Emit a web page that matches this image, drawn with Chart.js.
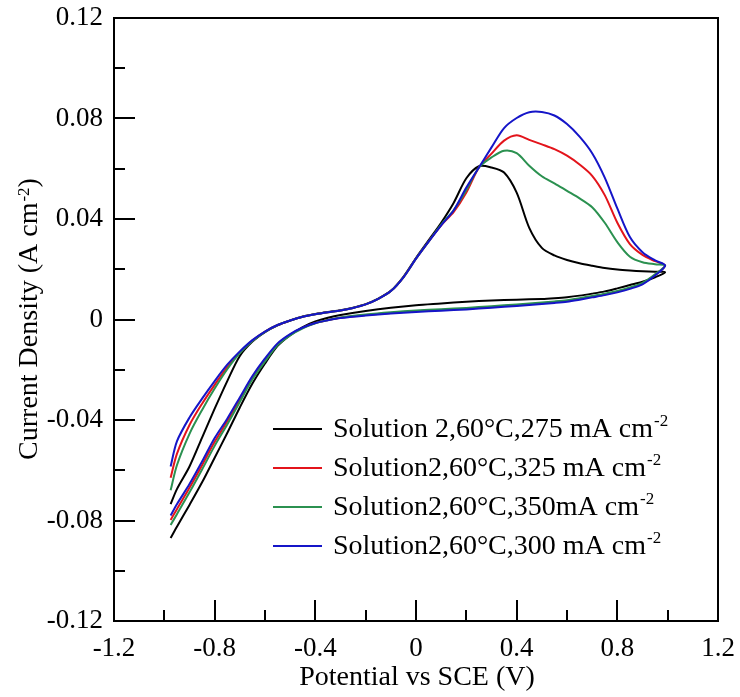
<!DOCTYPE html>
<html>
<head>
<meta charset="utf-8">
<script src="https://cdn.jsdelivr.net/npm/chart.js@4/dist/chart.umd.min.js"></script>
<style>
html,body{margin:0;padding:0;background:#fff;}
canvas{display:block;}
</style>
</head>
<body>
<canvas id="c" width="740" height="697"></canvas>
<script>
// ---- data (potential in V vs SCE, current density in A cm-2) ----
const seriesLabels = [
  "Solution 2,60\u00B0C,275 mA cm",
  "Solution2,60\u00B0C,325 mA cm",
  "Solution2,60\u00B0C,350mA cm",
  "Solution2,60\u00B0C,300 mA cm"
];
const seriesColors = ["#000000", "#e3141b", "#2b9150", "#1515c8"];

// forward (anodic) sweep potentials
const forwardE = [-0.975,-0.95,-0.9,-0.85,-0.8,-0.75,-0.7,-0.65,-0.6,-0.55,-0.5,-0.45,-0.4,-0.35,-0.3,-0.25,-0.2,-0.15,-0.1,-0.05,
  0,0.05,0.1,0.15,0.2,0.25,0.3,0.35,0.4,0.45,0.5,0.55,0.6,0.65,0.7,0.75,0.8,0.85,0.9,0.95,0.99];
// reverse sweep potentials
const reverseE = [0.99,0.95,0.9,0.85,0.8,0.75,0.7,0.65,0.6,0.55,0.5,0.4,0.3,0.2,0.1,0,-0.1,-0.2,-0.3,-0.35,
  -0.4,-0.45,-0.5,-0.55,-0.6,-0.65,-0.7,-0.75,-0.8,-0.85,-0.9,-0.95,-0.975];

const fwd275 = [-0.0735,-0.0675,-0.0585,-0.047,-0.0355,-0.0245,-0.0145,-0.0088,-0.005,-0.0023,-0.0004,0.0012,0.0022,0.003,0.0037,0.0047,0.0061,0.0083,0.0114,0.017,
  0.0245,0.0315,0.0385,0.0465,0.0562,0.061,0.0605,0.0585,0.0505,0.0365,0.0285,0.0255,0.0237,0.0224,0.0214,0.0205,0.0199,0.0195,0.0192,0.019,0.0188];
const rev275 = [0.0188,0.0168,0.015,0.0137,0.0124,0.0112,0.0103,0.0095,0.0089,0.0085,0.0082,0.0079,0.0076,0.0071,0.0064,0.0057,0.0047,0.0034,0.0018,0.0007,
  -0.0008,-0.003,-0.0062,-0.0105,-0.0175,-0.0255,-0.035,-0.0452,-0.055,-0.0648,-0.0738,-0.0825,-0.087];

const fwd325 = [-0.063,-0.0535,-0.042,-0.0335,-0.026,-0.019,-0.0131,-0.0084,-0.0048,-0.0022,-0.0004,0.0011,0.0021,0.0029,0.0036,0.0046,0.006,0.0082,0.0113,0.0168,
  0.0242,0.031,0.0375,0.0428,0.0505,0.0605,0.066,0.0712,0.0733,0.0715,0.0697,0.0678,0.0652,0.0617,0.0572,0.0495,0.0385,0.03,0.0257,0.0232,0.0215];
const rev325 = [0.0215,0.0178,0.0143,0.0125,0.0111,0.01,0.0091,0.0082,0.0074,0.0069,0.0065,0.0057,0.005,0.0043,0.0038,0.0033,0.0026,0.0018,0.0007,-0.0002,
  -0.0014,-0.0033,-0.006,-0.0098,-0.016,-0.023,-0.0318,-0.0405,-0.0487,-0.058,-0.067,-0.0755,-0.0798];

const fwd350 = [-0.068,-0.058,-0.0455,-0.036,-0.0275,-0.0198,-0.0134,-0.0086,-0.0049,-0.0022,-0.0004,0.0011,0.0021,0.0029,0.0036,0.0046,0.006,0.0082,0.0113,0.0168,
  0.0242,0.031,0.0378,0.0435,0.0515,0.0605,0.0645,0.0672,0.0662,0.0612,0.057,0.0542,0.0512,0.0482,0.0447,0.0385,0.0308,0.025,0.0228,0.022,0.0215];
const rev350 = [0.0215,0.018,0.0146,0.0128,0.0114,0.0103,0.0094,0.0085,0.0077,0.0072,0.0068,0.006,0.0053,0.0046,0.0041,0.0036,0.0029,0.002,0.0008,-0.0002,
  -0.0015,-0.0035,-0.0063,-0.0102,-0.0167,-0.0238,-0.0328,-0.0418,-0.0503,-0.0597,-0.0688,-0.0775,-0.0818];

const fwd300 = [-0.0585,-0.0485,-0.039,-0.0315,-0.0245,-0.018,-0.0127,-0.0082,-0.0048,-0.0022,-0.0004,0.0011,0.0021,0.0029,0.0036,0.0046,0.006,0.0082,0.0113,0.0168,
  0.0242,0.031,0.0375,0.0435,0.0525,0.0605,0.0685,0.0762,0.0802,0.0825,0.0826,0.0812,0.0778,0.0728,0.0662,0.0565,0.0442,0.0328,0.0268,0.0235,0.0215];
const rev300 = [0.0215,0.0175,0.014,0.0122,0.0108,0.0097,0.0088,0.0079,0.0071,0.0066,0.0062,0.0054,0.0047,0.004,0.0035,0.003,0.0024,0.0016,0.0006,-0.0003,
  -0.0014,-0.0032,-0.0058,-0.0095,-0.0155,-0.0225,-0.031,-0.0395,-0.0472,-0.0565,-0.0655,-0.0735,-0.078];

const xTicks = [-1.2,-0.8,-0.4,0,0.4,0.8,1.2];
const yTicks = [-0.12,-0.08,-0.04,0,0.04,0.08,0.12];
const xTitle = "Potential vs SCE (V)";
const yTitle = "Current Density (A cm";
const supText = "-2";

// ---- build datasets ----
const curves = [[fwd275, rev275],[fwd325, rev325],[fwd350, rev350],[fwd300, rev300]];
const drawOrder = [3, 2, 1, 0];
function loop(f, r) {
  const pts = forwardE.map((e, i) => ({x: e, y: f[i]}));
  reverseE.forEach((e, i) => { if (i > 0) pts.push({x: e, y: r[i]}); });
  return pts;
}
const datasets = curves.map((c, k) => ({
  label: seriesLabels[k] + supText,
  data: loop(c[0], c[1]),
  borderColor: seriesColors[k],
  backgroundColor: seriesColors[k],
  borderWidth: 2,
  pointRadius: 0,
  showLine: true,
  fill: false,
  tension: 0.3,
  order: drawOrder[k]
}));

const FONT = "'Liberation Serif', 'Times New Roman', serif";
const fmt = v => { const n = Math.round(v * 100) / 100; return (n === 0 ? 0 : n).toString(); };

function drawSup(ctx, x, y, main, sup, size) {
  ctx.font = size + "px " + FONT;
  ctx.fillText(main, x, y);
  const w = ctx.measureText(main).width;
  ctx.font = Math.round(size * 0.6) + "px " + FONT;
  ctx.fillText(sup, x + w + 1, y - size * 0.3);
  return w + 1 + ctx.measureText(sup).width;
}

const decor = {
  id: 'decor',
  afterDraw(chart) {
    const ctx = chart.ctx, a = chart.chartArea;
    const xs = chart.scales.x, ys = chart.scales.y;
    ctx.save();
    ctx.strokeStyle = '#000';
    ctx.lineWidth = 2;
    ctx.strokeRect(a.left, a.top, a.right - a.left, a.bottom - a.top);
    // inward ticks
    ctx.lineWidth = 2;
    for (let i = 0; i <= 12; i++) {
      const v = -1.2 + i * 0.2;
      const px = Math.round(xs.getPixelForValue(v));
      const len = i % 2 === 0 ? 21 : 11;
      ctx.beginPath(); ctx.moveTo(px, a.bottom); ctx.lineTo(px, a.bottom - len); ctx.stroke();
    }
    for (let i = 0; i <= 12; i++) {
      const v = -0.12 + i * 0.02;
      const py = Math.round(ys.getPixelForValue(v));
      const len = i % 2 === 0 ? 21 : 11;
      ctx.beginPath(); ctx.moveTo(a.left, py); ctx.lineTo(a.left + len, py); ctx.stroke();
    }
    // axis titles
    ctx.fillStyle = '#000';
    ctx.textBaseline = 'alphabetic';
    ctx.font = "28px " + FONT;
    ctx.textAlign = 'center';
    ctx.fillText(xTitle, 417, 685);
    ctx.textAlign = 'left';
    ctx.save();
    ctx.translate(37, 319);
    ctx.rotate(-Math.PI / 2);
    ctx.font = "28px " + FONT;
    const w1 = ctx.measureText(yTitle).width;
    ctx.font = "17px " + FONT;
    const w2 = ctx.measureText(supText).width;
    ctx.font = "28px " + FONT;
    const w3 = ctx.measureText(")").width;
    let x0 = -(w1 + 1 + w2 + w3) / 2;
    const ww = drawSup(ctx, x0, 0, yTitle, supText, 28);
    ctx.font = "28px " + FONT;
    ctx.fillText(")", x0 + ww, 0);
    ctx.restore();
    // legend
    const rows = [429, 468, 507, 546];
    seriesLabels.forEach((lab, k) => {
      ctx.strokeStyle = seriesColors[k];
      ctx.lineWidth = 2;
      ctx.beginPath(); ctx.moveTo(273, rows[k]); ctx.lineTo(322, rows[k]); ctx.stroke();
      ctx.fillStyle = '#000';
      ctx.textBaseline = 'middle';
      drawSup(ctx, 333, rows[k] + 1, lab, supText, 28);
    });
    ctx.restore();
  }
};

new Chart(document.getElementById('c'), {
  type: 'scatter',
  data: { datasets },
  options: {
    responsive: false,
    devicePixelRatio: 1,
    animation: false,
    layout: { padding: { left: 0, right: 22, top: 18, bottom: 0 } },
    plugins: { legend: { display: false }, tooltip: { enabled: false } },
    scales: {
      x: {
        type: 'linear', min: -1.2, max: 1.2,
        afterBuildTicks: s => { s.ticks = xTicks.map(v => ({value: v})); },
        afterFit: s => { s.height = 76; s.paddingLeft = 0; s.paddingRight = 0; },
        grid: { display: false, drawTicks: false },
        border: { display: false },
        ticks: { color: '#000', font: { family: FONT, size: 27 }, padding: 12, maxRotation: 0, callback: v => fmt(v) }
      },
      y: {
        type: 'linear', min: -0.12, max: 0.12,
        afterBuildTicks: s => { s.ticks = yTicks.map(v => ({value: v})); },
        afterFit: s => { s.width = 114; s.paddingTop = 0; s.paddingBottom = 0; },
        grid: { display: false, drawTicks: false },
        border: { display: false },
        ticks: { color: '#000', font: { family: FONT, size: 27 }, padding: 11, callback: v => fmt(v) }
      }
    }
  },
  plugins: [decor]
});
</script>
</body>
</html>
